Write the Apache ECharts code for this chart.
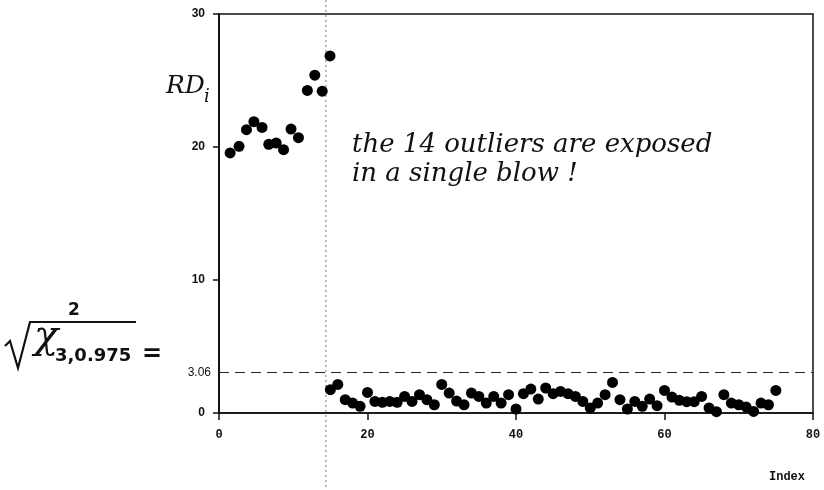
<!DOCTYPE html>
<html><head><meta charset="utf-8">
<script src="https://cdn.jsdelivr.net/npm/echarts@6/dist/echarts.min.js"></script>
<style>html,body{margin:0;padding:0;background:#fff}#c{width:824px;height:490px}</style>
</head><body><div id="c"></div>
<script>
// Data
const outlierIndex = [1.5, 2.7, 3.7, 4.7, 5.8, 6.7, 7.7, 8.7, 9.7, 10.7, 11.9, 12.9, 13.9, 14.95];
const outlierRD = [19.55, 20.05, 21.3, 21.9, 21.47, 20.2, 20.3, 19.8, 21.35, 20.7, 24.25, 25.4, 24.2, 26.85];
const regularIndex = [15,16,17,18,19,20,21,22,23,24,25,26,27,28,29,30,31,32,33,34,35,36,37,38,39,40,41,42,43,44,45,46,47,48,49,50,51,52,53,54,55,56,57,58,59,60,61,62,63,64,65,66,67,68,69,70,71,72,73,74,75];
const regularRD = [1.75,2.15,1.0,0.75,0.5,1.55,0.87,0.8,0.87,0.8,1.25,0.87,1.38,1.0,0.62,2.15,1.5,0.9,0.62,1.5,1.25,0.75,1.25,0.75,1.38,0.3,1.45,1.8,1.05,1.88,1.45,1.62,1.45,1.25,0.87,0.38,0.75,1.38,2.3,1.0,0.3,0.87,0.5,1.05,0.55,1.7,1.2,0.95,0.85,0.85,1.25,0.38,0.1,1.38,0.75,0.62,0.45,0.12,0.75,0.62,1.7];
const xTickLabels = ['0','20','40','60','80'];
const yTickLabels = ['0','10','20','30'];
const cutoff = 3.06;
const cutoffLabel = '3.06';
const splitIndex = 14.4;

const chart = echarts.init(document.getElementById('c'), null, {renderer:'canvas'});
const pairs = (xs, ys) => xs.map((x, i) => [x, ys[i]]);
const hand = 'italic 26px "DejaVu Serif"';

chart.setOption({
  backgroundColor: '#fff',
  animation: false,
  grid: {left: 219, right: 11, top: 14, bottom: 77, show: true, borderColor: '#111', borderWidth: 1.5},
  xAxis: {
    type: 'value', min: 0, max: 80, interval: 20,
    axisLine: {show: true, lineStyle: {color: '#111', width: 1.5}},
    axisTick: {show: true, inside: false, length: 7, lineStyle: {color: '#111', width: 1.5}},
    axisLabel: {margin: 16, color: '#111', fontFamily: 'Liberation Mono', fontWeight: 'bold', fontSize: 12,
      formatter: v => xTickLabels[xTickLabels.indexOf(String(v))] || ''},
    splitLine: {show: false}
  },
  yAxis: {
    type: 'value', min: 0, max: 30, interval: 10,
    axisLine: {show: true, lineStyle: {color: '#111', width: 2}},
    axisTick: {show: true, inside: false, length: 6, lineStyle: {color: '#111', width: 1.5}},
    axisLabel: {margin: 14, color: '#111', fontFamily: 'Liberation Sans', fontWeight: 'bold', fontSize: 12,
      formatter: v => yTickLabels[yTickLabels.indexOf(String(v))] || ''},
    splitLine: {show: false}
  },
  series: [
    {type: 'scatter', data: pairs(outlierIndex, outlierRD), symbolSize: 11, itemStyle: {color: '#000', opacity: 1}},
    {type: 'scatter', data: pairs(regularIndex, regularRD), symbolSize: 11, itemStyle: {color: '#000', opacity: 1},
      markLine: {silent: true, symbol: 'none',
        lineStyle: {type: [10, 6], color: '#222', width: 1.2},
        label: {show: true, position: 'start', distance: 8, formatter: cutoffLabel, color: '#111', fontSize: 12, fontFamily: 'Liberation Sans'},
        data: [{yAxis: cutoff}]}}
  ]
});

const vx = chart.convertToPixel({xAxisIndex: 0}, splitIndex);
chart.setOption({
  graphic: [
    {type: 'line', shape: {x1: vx, y1: 0, x2: vx, y2: 490}, style: {stroke: '#777', lineWidth: 1, lineDash: [2, 3]}, z: 1},
    {type: 'text', left: 166, top: 74, style: {text: 'RD', font: 'italic 25px "DejaVu Serif"', fill: '#111'}},
    {type: 'text', left: 204, top: 88, style: {text: 'i', font: 'italic 18px "DejaVu Serif"', fill: '#111'}},
    {type: 'text', left: 352, top: 132, style: {text: 'the 14 outliers are exposed', font: hand, fill: '#111'}},
    {type: 'text', left: 352, top: 161, style: {text: 'in a single blow !', font: hand, fill: '#111'}},
    {type: 'polyline', shape: {points: [[5, 346], [10, 341], [18, 368], [30, 322], [136, 322]]}, style: {stroke: '#111', lineWidth: 2.2, fill: null}},
    {type: 'text', left: 34, top: 318, style: {text: 'χ', font: 'italic 40px "DejaVu Serif"', fill: '#111'}},
    {type: 'text', left: 68, top: 302, style: {text: '2', font: 'bold 17px "DejaVu Sans"', fill: '#111'}},
    {type: 'text', left: 55, top: 347, style: {text: '3,0.975', font: 'bold 18px "DejaVu Sans"', fill: '#111'}},
    {type: 'text', left: 142, top: 343, style: {text: '=', font: 'bold 24px "DejaVu Sans"', fill: '#111'}},
    {type: 'text', left: 769, top: 471, style: {text: 'Index', font: 'bold 12px "Liberation Mono"', fill: '#111'}}
  ]
});
</script></body></html>
